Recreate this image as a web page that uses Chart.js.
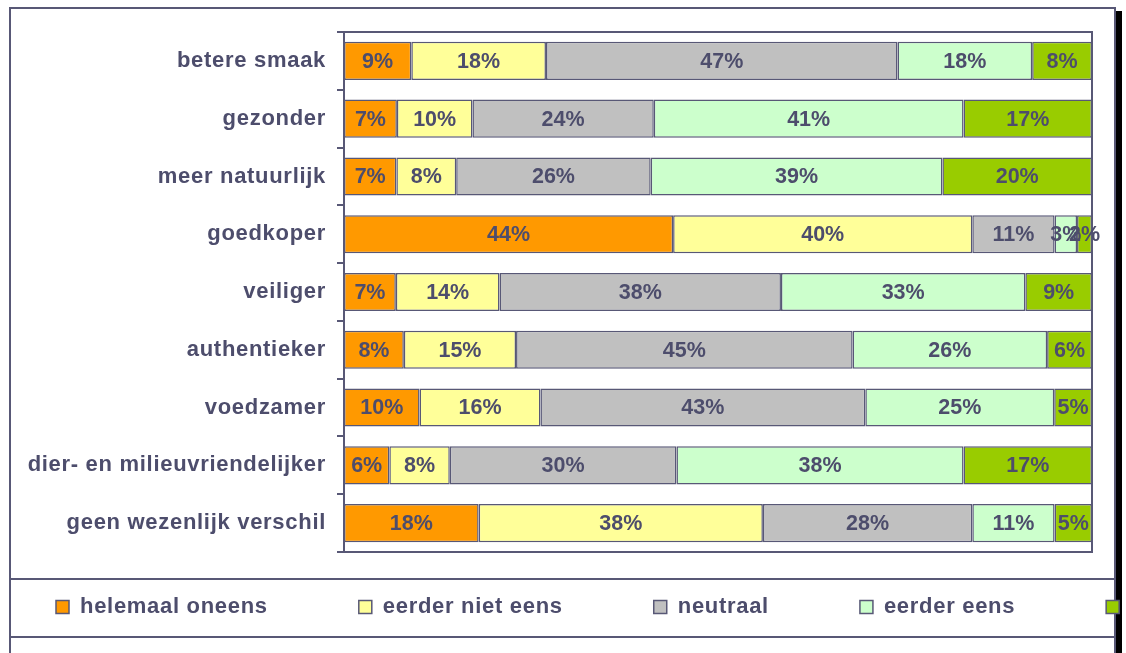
<!DOCTYPE html>
<html>
<head>
<meta charset="utf-8">
<script src="https://cdn.jsdelivr.net/npm/chart.js@4.4.1/dist/chart.umd.min.js"></script>
<style>
  html, body { margin: 0; padding: 0; background: #fff; }
  #wrap { position: relative; width: 1126px; height: 653px; overflow: hidden; }
  #chart { position: absolute; left: 0; top: 0; }
</style>
</head>
<body>
<div id="wrap"><canvas id="chart" width="1500" height="675"></canvas></div>
<script>
// categories, top to bottom
var categories = [
    "betere smaak", "gezonder", "meer natuurlijk", "goedkoper", "veiliger",
    "authentieker", "voedzamer", "dier- en milieuvriendelijker", "geen wezenlijk verschil"
];
var seriesNames = ["helemaal oneens", "eerder niet eens", "neutraal", "eerder eens", "helemaal eens"];

// percentages per category
var helemaalOneens = [9, 7, 7, 44, 7, 8, 10, 6, 18];
var eerderNietEens = [18, 10, 8, 40, 14, 15, 16, 8, 38];
var neutraal       = [47, 24, 26, 11, 38, 45, 43, 30, 28];
var eerderEens     = [18, 41, 39, 3, 33, 26, 25, 38, 11];
var helemaalEens   = [8, 17, 20, 2, 9, 6, 5, 17, 5];

var seriesColors = ["#FF9900", "#FFFF99", "#C0C0C0", "#CCFFCC", "#99CC00"];

var textColor = "#4d4d6c";
var lineColor = "#585876";
var fontFamily = "'Liberation Sans', Arial, sans-serif";

var CANVAS_W = 1500;
var PLOT_LEFT = 344, PLOT_RIGHT = 1092;

var allSeries = [helemaalOneens, eerderNietEens, neutraal, eerderEens, helemaalEens];

// 100% stacked: each row scaled to its total
var rowTotals = categories.map(function (c, i) {
    var t = 0;
    allSeries.forEach(function (s) { t += s[i]; });
    return t;
});

var datasets = allSeries.map(function (s, k) {
    return {
        label: seriesNames[k],
        data: s.map(function (v, i) { return v / rowTotals[i] * 100; }),
        rawValues: s,
        backgroundColor: seriesColors[k],
        borderColor: lineColor,
        borderWidth: 1.5,
        borderSkipped: false,
        categoryPercentage: 1,
        barPercentage: 0.66
    };
});

var spacingPlugin = {
    id: "spacing",
    beforeLayout: function (chart) { chart.ctx.letterSpacing = "0.7px"; },
    afterLayout: function (chart) {
        // move legend into its framed strip
        var lg = chart.legend;
        var h = lg.bottom - lg.top, w = lg.right - lg.left;
        lg.top = 505; lg.bottom = 505 + h;
        lg.left = -35; lg.right = lg.left + w;
    },
    beforeDraw: function (chart) {
        var ctx = chart.ctx;
        ctx.letterSpacing = "0.7px";
        ctx.save();
        ctx.strokeStyle = lineColor;
        ctx.lineWidth = 2;
        ctx.beginPath();
        ctx.moveTo(10, 700); ctx.lineTo(10, 8); ctx.lineTo(1115, 8); ctx.lineTo(1115, 700);
        ctx.moveTo(10, 579); ctx.lineTo(1115, 579);
        ctx.moveTo(10, 637); ctx.lineTo(1115, 637);
        ctx.stroke();
        ctx.fillStyle = "#000";
        ctx.fillRect(1116, 11, 6, 700);
        ctx.restore();
    }
};

var labelPlugin = {
    id: "barLabels",
    afterDatasetsDraw: function (chart) {
        var ctx = chart.ctx;
        var a = chart.chartArea;
        ctx.save();
        ctx.strokeStyle = lineColor;
        ctx.lineWidth = 2;
        ctx.strokeRect(a.left, a.top, a.right - a.left, a.bottom - a.top);
        ctx.letterSpacing = "0px";
        ctx.font = "bold 21.5px " + fontFamily;
        ctx.fillStyle = textColor;
        ctx.textAlign = "center";
        ctx.textBaseline = "middle";
        chart.data.datasets.forEach(function (ds, k) {
            chart.getDatasetMeta(k).data.forEach(function (bar, i) {
                var x = (bar.x + bar.base) / 2;
                ctx.fillText(ds.rawValues[i] + "%", x, bar.y + 1);
            });
        });
        ctx.restore();
    }
};

new Chart(document.getElementById("chart"), {
    type: "bar",
    data: { labels: categories, datasets: datasets },
    options: {
        indexAxis: "y",
        responsive: false,
        animation: false,
        layout: { padding: { top: 32, left: 0, right: 0, bottom: 0 } },
        plugins: {
            tooltip: { enabled: false },
            legend: {
                position: "bottom",
                align: "start",
                labels: {
                    boxWidth: 13,
                    boxHeight: 13,
                    padding: 91,
                    color: textColor,
                    font: { family: fontFamily, size: 22, weight: "bold" }
                }
            }
        },
        scales: {
            x: { stacked: true, display: false, min: 0, max: 100 },
            y: {
                stacked: true,
                grid: { offset: true, drawOnChartArea: false, drawTicks: true, tickLength: 7, color: lineColor, lineWidth: 2 },
                border: { display: true, color: lineColor, width: 2 },
                ticks: { color: textColor, padding: 11, font: { family: fontFamily, size: 22, weight: "bold" } },
                afterFit: function (s) { s.width = PLOT_LEFT; }
            },
            rightPad: {
                type: "linear",
                position: "right",
                grid: { display: false },
                border: { display: false },
                ticks: { display: false },
                afterFit: function (s) { s.width = CANVAS_W - PLOT_RIGHT; }
            }
        }
    },
    plugins: [spacingPlugin, labelPlugin]
});
</script>
</body>
</html>
